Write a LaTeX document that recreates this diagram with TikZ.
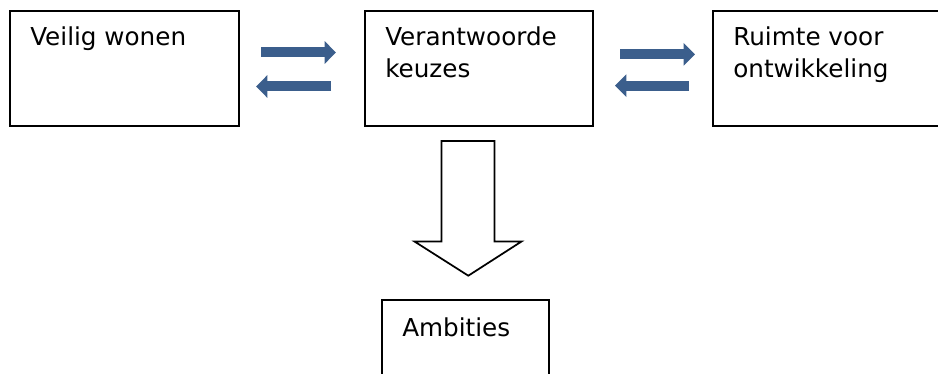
\documentclass[tikz,border=0pt]{standalone}
\usepackage{fontspec}
\setmainfont{DejaVu Sans}
\usetikzlibrary{arrows.meta}
\definecolor{arrowblue}{HTML}{3B5E8C}
\begin{document}
\begin{tikzpicture}[x=0.75pt,y=-0.75pt,
  box/.style={draw=black,line width=1.3pt},
  label/.style={anchor=base west,inner sep=0pt,font=\fontsize{18.5pt}{24pt}\selectfont},
  bluearrow/.style={draw=arrowblue,fill=arrowblue,line width=7.5pt,-{Triangle[width=16.5pt,length=8.5pt]}},
  hollow/.style={draw=black,fill=white,line width=1.3pt,line join=miter}]
\useasboundingbox (0,0) rectangle (938,374);
\begin{scope}
\clip (0,0) rectangle (938,374);
% boxes
\node[box,anchor=north west,minimum width=229*0.75pt,minimum height=115*0.75pt,inner sep=0pt] (b1) at (9,10) {};
\node[box,anchor=north west,minimum width=228*0.75pt,minimum height=115*0.75pt,inner sep=0pt] (b2) at (364,10) {};
\node[box,anchor=north west,minimum width=240*0.75pt,minimum height=115*0.75pt,inner sep=0pt] (b3) at (712,10) {};
\node[box,anchor=north west,minimum width=167*0.75pt,minimum height=90*0.75pt,inner sep=0pt] (b4) at (381,299) {};
\end{scope}
% texts
\node[label] (t1) at (30,46) {Veilig wonen};
\node[label] (t2a) at (385,46) {Verantwoorde};
\node[label] (t2b) at (385,78) {keuzes};
\node[label] (t3a) at (733,46) {Ruimte voor};
\node[label] (t3b) at (733,78) {ontwikkeling};
\node[label] (t4) at (402,336) {Ambities};
% blue arrows
\coordinate (a1s) at (261,52.5);
\coordinate (a1e) at (336,52.5);
\coordinate (a2s) at (331,86.5);
\coordinate (a2e) at (256,86.5);
\coordinate (a3s) at (620,54.3);
\coordinate (a3e) at (695,54.3);
\coordinate (a4s) at (689,85.7);
\coordinate (a4e) at (615,85.7);
\draw[bluearrow] (a1s) -- (a1e);
\draw[bluearrow] (a2s) -- (a2e);
\draw[bluearrow] (a3s) -- (a3e);
\draw[bluearrow] (a4s) -- (a4e);
% hollow down arrow
\draw[hollow] (441.5,141) -- (494.5,141) -- (494.5,241.5) -- (521.5,241.5) -- (468.3,275.7) -- (414.5,241.5) -- (441.5,241.5) -- cycle;
\end{tikzpicture}
\end{document}
